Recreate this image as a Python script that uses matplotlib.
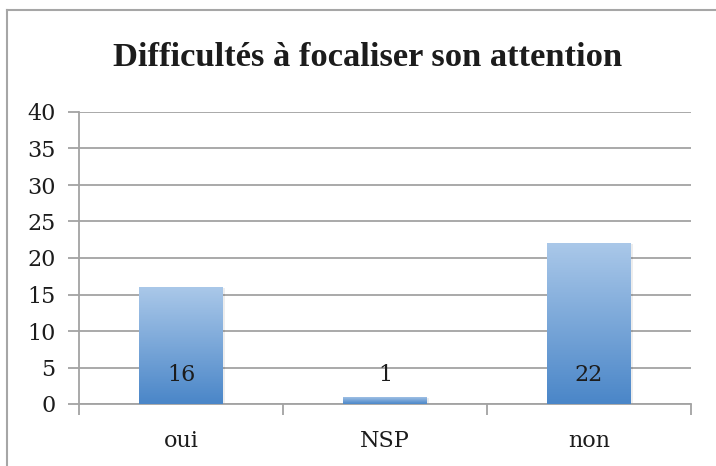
import matplotlib
matplotlib.use("Agg")
import matplotlib.pyplot as plt
import numpy as np
from matplotlib.colors import LinearSegmentedColormap
from matplotlib.lines import Line2D
from matplotlib.patches import Rectangle

categories = ["oui", "NSP", "non"]
values = [16, 1, 22]
yticks = [0, 5, 10, 15, 20, 25, 30, 35, 40]
title = "Difficultés à focaliser son attention"

serif = ["DejaVu Serif"]
title_font = ["Liberation Serif", "DejaVu Serif"]
txt = "#1C1C1C"
gridc = "#A3A3A3"

fig = plt.figure(figsize=(7.16, 4.66), dpi=100)
ax = fig.add_axes([79/716, 62/466, 612/716, 292/466])

x = np.arange(len(categories))
width = 0.41
bars = ax.bar(x, values, width=width, color="none", edgecolor="none", zorder=3)

cmap = LinearSegmentedColormap.from_list("g", ["#4A86C8", "#AAC8E9"])
grad = np.linspace(0, 1, 256).reshape(-1, 1)
for b in bars:
    x0, y0 = b.get_x(), b.get_y()
    w, h = b.get_width(), b.get_height()
    sh = Rectangle((x0 + 0.012, y0), w, max(h - 0.15, 0), facecolor="#000000", alpha=0.07,
                   edgecolor="none", zorder=2)
    ax.add_patch(sh)
    im = ax.imshow(grad, cmap=cmap, aspect="auto", origin="lower",
                   extent=[x0, x0 + w, y0, y0 + h], zorder=3, interpolation="bicubic")
    im.set_clip_path(b)

for xi, v in zip(x, values):
    ax.text(xi, 4, str(v), ha="center", va="center", fontsize=16,
            family=serif, color=txt, zorder=5)

ax.set_xlim(-0.5, len(categories) - 0.5)
ax.set_ylim(0, 40)
ax.set_yticks(yticks)
ax.set_yticklabels([str(t) for t in yticks], family=serif, fontsize=16, color=txt)
ax.set_xticks(x)
ax.set_xticklabels(categories, family=serif, fontsize=16, color=txt)
ax.tick_params(axis="x", length=0, pad=19)
ax.tick_params(axis="y", length=8, width=1.3, color=gridc, pad=9)
ax.set_xticks([-0.5, 0.5, 1.5, 2.5], minor=True)
ax.tick_params(axis="x", which="minor", length=8, width=1.3, color=gridc)

ax.grid(axis="y", color=gridc, linewidth=1.3, zorder=0)
ax.set_axisbelow(True)
for s in ["top", "right"]:
    ax.spines[s].set_visible(False)
ax.spines["left"].set_color(gridc)
ax.spines["left"].set_linewidth(1.3)
ax.spines["bottom"].set_color(gridc)
ax.spines["bottom"].set_linewidth(1.3)

fig.text(368/716, 1 - 57/466, title, ha="center", va="center", fontsize=24.8,
         fontweight="bold", family=title_font, color=txt)

fig.add_artist(Line2D([7/716, 7/716], [0, 1 - 10/466], color="#A6A6A6", linewidth=1.5,
                      transform=fig.transFigure))
fig.add_artist(Line2D([7/716, 1], [1 - 10/466, 1 - 10/466], color="#A6A6A6", linewidth=1.5,
                      transform=fig.transFigure))

fig.savefig("out.png", dpi=100)
